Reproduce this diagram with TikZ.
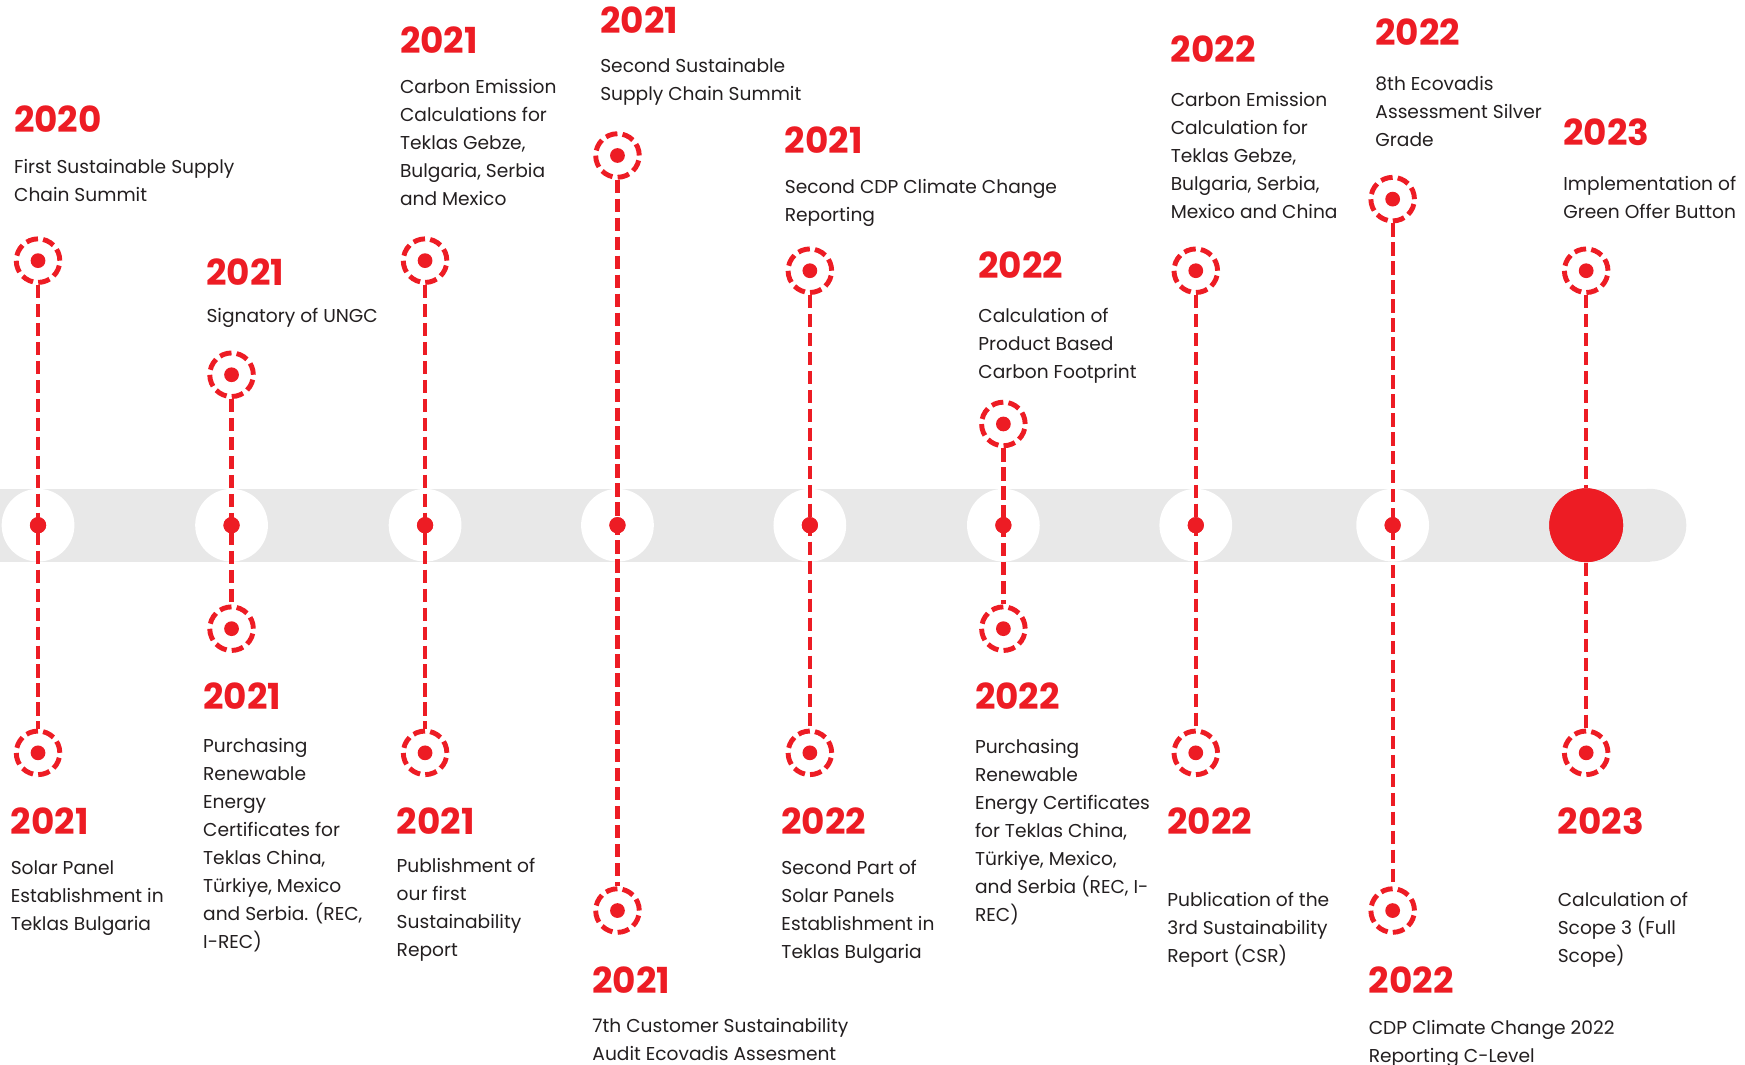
\documentclass[tikz,border=0pt]{standalone}
\usepackage{fontspec}
\setmainfont{Poppins}
\definecolor{tred}{HTML}{ED1C24}
\definecolor{tgray}{HTML}{E8E8E8}
\definecolor{ttext}{HTML}{231F20}
\newcommand{\desclines}[1]{\begin{tabular}[t]{@{}l@{}}#1\end{tabular}}
\begin{document}
\begin{tikzpicture}[x=0.11186mm,y=-0.11186mm,
 year/.style={anchor=base west, inner sep=0, text=tred, font=\fontsize{10.2}{12}\selectfont\bfseries},
 desc/.style={anchor=base west, inner sep=0, text=ttext, font=\fontsize{5.3}{7.96}\selectfont},
 ring/.style={circle, draw=tred, line width=1.4pt, dash pattern=on 3.4pt off 1.47pt, minimum size=12.4pt, inner sep=0},
 link/.style={draw=tred, line width=1.2pt, dash pattern=on 3.8pt off 1.6pt},
 hole/.style={circle, fill=white, minimum size=20.7pt, inner sep=0},
 bdot/.style={circle, fill=tred, minimum size=4.6pt, inner sep=0},
 bigdot/.style={circle, fill=tred, minimum size=21pt, inner sep=0},
]
\useasboundingbox (0,0) rectangle (1560,951.2);
% bar
\fill[tgray] (0,437) rectangle (1475,502);
\fill[tgray] (1475,469.5) circle (10.35pt);
% holes and centre dots
\foreach \i/\x in {0/34,1/207,2/380,3/552,4/724,5/897,6/1069,7/1245}{
  \node[hole] (h\i) at (\x,469.5) {};
  \node[bdot] (d\i) at (\x,469.5) {};
}
\node[bigdot] (d8) at (1418,469.5) {};
% rings
\foreach \i/\x/\ty/\by in {0/34/233/673,1/207/335/562,2/380/233/673,3/552/139/814,4/724/242/673,5/897/379/562,6/1069/242/673,7/1245/178/814,8/1418/242/673}{
  \node[ring] (t\i) at (\x,\ty) {};
  \node[ring] (b\i) at (\x,\by) {};
  \fill[tred] (t\i) circle (2.1pt);
  \fill[tred] (b\i) circle (2.1pt);
}
% links
\foreach \i in {0,...,7}{
  \draw[link] (t\i) -- (b\i);
  \node[bdot] at (d\i) {};
}
\draw[link] (t8) -- (d8);
\draw[link] (d8) -- (b8);
\node[bigdot] at (d8) {};
% texts top
\node[year] (y0t) at (12,118) {2020};
\node[desc] (x0t) at (12,155) {\desclines{First Sustainable Supply\\Chain Summit}};
\node[year] (y1t) at (184,255) {2021};
\node[desc] (x1t) at (184,288) {\desclines{Signatory of UNGC}};
\node[year] (y2t) at (357,48) {2021};
\node[desc] (x2t) at (357,84) {\desclines{Carbon Emission\\Calculations for\\Teklas Gebze,\\Bulgaria, Serbia\\and Mexico}};
\node[year] (y3t) at (536,30) {2021};
\node[desc] (x3t) at (536,65) {\desclines{Second Sustainable\\Supply Chain Summit}};
\node[year] (y4t) at (701,137) {2021};
\node[desc] (x4t) at (701,173) {\desclines{Second CDP Climate Change\\Reporting}};
\node[year] (y5t) at (874,249) {2022};
\node[desc] (x5t) at (874,288) {\desclines{Calculation of\\Product Based\\Carbon Footprint}};
\node[year] (y6t) at (1046,56) {2022};
\node[desc] (x6t) at (1046,95) {\desclines{Carbon Emission\\Calculation for\\Teklas Gebze,\\Bulgaria, Serbia,\\Mexico and China}};
\node[year] (y7t) at (1229,41) {2022};
\node[desc] (x7t) at (1229,81) {\desclines{8th Ecovadis\\Assessment Silver\\Grade}};
\node[year] (y8t) at (1397,130) {2023};
\node[desc] (x8t) at (1397,170) {\desclines{Implementation of\\Green Offer Button}};
% texts bottom
\node[year] (y0b) at (9,746) {2021};
\node[desc] (x0b) at (9,782) {\desclines{Solar Panel\\Establishment in\\Teklas Bulgaria}};
\node[year] (y1b) at (181,634) {2021};
\node[desc] (x1b) at (181,673) {\desclines{Purchasing\\Renewable\\Energy\\Certificates for\\Teklas China,\\Türkiye, Mexico\\and Serbia. (REC,\\I-REC)}};
\node[year] (y2b) at (354,746) {2021};
\node[desc] (x2b) at (354,780) {\desclines{Publishment of\\our first\\Sustainability\\Report}};
\node[year] (y3b) at (529,888) {2021};
\node[desc] (x3b) at (529,923) {\desclines{7th Customer Sustainability\\Audit Ecovadis Assesment}};
\node[year] (y4b) at (698,746) {2022};
\node[desc] (x4b) at (698,782) {\desclines{Second Part of\\Solar Panels\\Establishment in\\Teklas Bulgaria}};
\node[year] (y5b) at (871,634) {2022};
\node[desc] (x5b) at (871,674) {\desclines{Purchasing\\Renewable\\Energy Certificates\\for Teklas China,\\Türkiye, Mexico,\\and Serbia (REC, I-\\REC)}};
\node[year] (y6b) at (1043,746) {2022};
\node[desc] (x6b) at (1043,810) {\desclines{Publication of the\\3rd Sustainability\\Report (CSR)}};
\node[year] (y7b) at (1223,888) {2022};
\node[desc] (x7b) at (1223,925) {\desclines{CDP Climate Change 2022\\Reporting C-Level}};
\node[year] (y8b) at (1392,746) {2023};
\node[desc] (x8b) at (1392,810) {\desclines{Calculation of\\Scope 3 (Full\\Scope)}};
\end{tikzpicture}
\end{document}
